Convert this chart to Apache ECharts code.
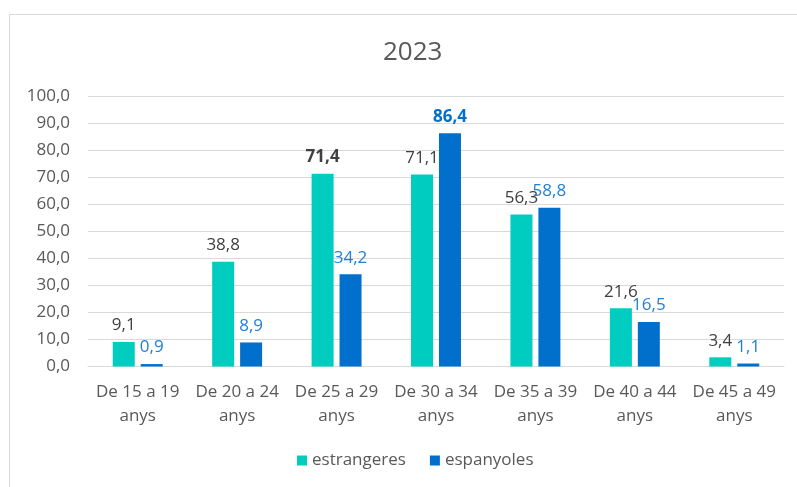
<!DOCTYPE html>
<html>
<head>
<meta charset="utf-8">
<script src="https://cdn.jsdelivr.net/npm/echarts@6/dist/echarts.min.js"></script>
<style>
    html, body { margin: 0; padding: 0; background: #fff; }
    #chart { width: 797px; height: 487px; }
</style>
</head>
<body>
<div id="chart"></div>
<script>
const categories = ['De 15 a 19\nanys', 'De 20 a 24\nanys', 'De 25 a 29\nanys', 'De 30 a 34\nanys', 'De 35 a 39\nanys', 'De 40 a 44\nanys', 'De 45 a 49\nanys'];
const estrangeres = [9.1, 38.8, 71.4, 71.1, 56.3, 21.6, 3.4];
const espanyoles = [0.9, 8.9, 34.2, 86.4, 58.8, 16.5, 1.1];

const TEAL = '#00CCC0';
const BLUE = '#0070CC';
const TEXT = '#595959';
const FONT = '"Open Sans", sans-serif';

const fmt = (v) => v.toFixed(1).replace('.', ',');

function withLabels(values, boldColor) {
    const max = Math.max(...values);
    return values.map((v) => {
        if (v !== max) {
            return v;
        }
        return { value: v, label: { fontWeight: 'bold', color: boldColor } };
    });
}

const chart = echarts.init(document.getElementById('chart'));

chart.setOption({
    backgroundColor: '#fff',
    animation: false,
    textStyle: { fontFamily: FONT },
    graphic: [
        {
            type: 'rect',
            shape: { x: 9.5, y: 14.5, width: 800, height: 500 },
            style: { fill: 'none', stroke: '#d9d9d9', lineWidth: 1 },
            silent: true,
        },
    ],
    title: {
        text: '2023',
        left: 378,
        top: 35,
        textStyle: { fontFamily: FONT, fontSize: 26, fontWeight: 'normal', color: TEXT },
    },
    legend: {
        bottom: 13,
        left: 292,
        itemWidth: 10,
        itemHeight: 10,
        itemGap: 24,
        icon: 'rect',
        textStyle: { fontFamily: FONT, fontSize: 17, color: TEXT },
        data: ['estrangeres', 'espanyoles'],
    },
    grid: { left: 88, right: 13, top: 96.5, bottom: 120.5 },
    xAxis: {
        type: 'category',
        data: categories,
        axisTick: { show: false },
        axisLine: { lineStyle: { color: '#d9d9d9' } },
        axisLabel: { color: TEXT, fontSize: 17, lineHeight: 24, margin: 14, interval: 0 },
    },
    yAxis: {
        type: 'value',
        min: 0,
        max: 100,
        interval: 10,
        axisLine: { show: false },
        axisTick: { show: false },
        splitLine: { lineStyle: { color: '#d9d9d9' } },
        axisLabel: { color: TEXT, fontSize: 17, margin: 18, formatter: (v) => fmt(v) },
    },
    series: [
        {
            name: 'estrangeres',
            type: 'bar',
            data: withLabels(estrangeres, '#404040'),
            barWidth: 22,
            barGap: '27%',
            itemStyle: { color: TEAL },
            label: {
                show: true,
                position: 'top',
                distance: 8,
                color: '#404040',
                fontSize: 17,
                formatter: (p) => fmt(p.value),
            },
        },
        {
            name: 'espanyoles',
            type: 'bar',
            data: withLabels(espanyoles, BLUE),
            barWidth: 22,
            itemStyle: { color: BLUE },
            label: {
                show: true,
                position: 'top',
                distance: 8,
                color: '#2080D8',
                fontSize: 17,
                formatter: (p) => fmt(p.value),
            },
        },
    ],
});
</script>
</body>
</html>
